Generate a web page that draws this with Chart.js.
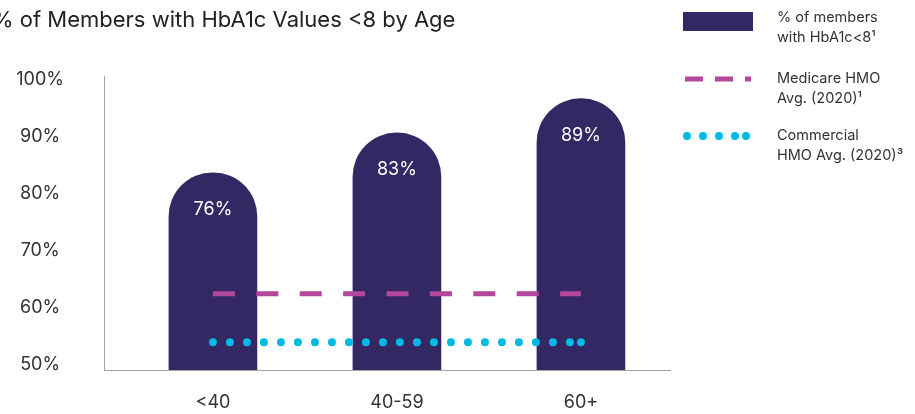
<!DOCTYPE html>
<html>
<head>
<meta charset="utf-8">
<script src="https://cdn.jsdelivr.net/npm/chart.js@4.4.0/dist/chart.umd.min.js"></script>
<style>
    html, body { margin: 0; padding: 0; background: #fff; overflow: hidden; }
    #wrap { position: absolute; left: -8px; top: 0; width: 923px; height: 414px; }
</style>
</head>
<body>
<div id="wrap"><canvas id="hba1cChart"></canvas></div>
<script>
const ageGroups = ['<40', '40-59', '60+'];
const membersPct = [76, 83, 89];
const medicareAvg = [62.5, 62.5, 62.5];
const commercialAvg = [54, 54, 54];
const yTicks = [50, 60, 70, 80, 90, 100];
const seriesNames = [
    ['% of members', 'with HbA1c<8¹'],
    ['Medicare HMO', 'Avg. (2020)¹'],
    ['Commercial', 'HMO Avg. (2020)³'],
];

const barColor = '#342864';
const medicareColor = '#b2479c';
const commercialColor = '#00b9e4';
const axisColor = '#a3a3a3';
const textColor = '#333333';
const fontFamily = 'Inter, "Noto Sans", sans-serif';

// canvas is pushed 8px left so the title gets cut like the original
const ox = 8;

const toPoints = values => values.map((v, i) => ({ x: i, y: v }));

// round cap sits above the value, so lift each bar by its radius
const barCaps = {
    id: 'barCaps',
    afterDatasetUpdate(chart, args) {
        if (args.meta.type !== 'bar') return;
        args.meta.data.forEach(el => {
            el.y -= el.width / 2;
            el.height = el.base - el.y;
        });
    },
    afterDatasetsDraw(chart) {
        const ctx = chart.ctx;
        const meta = chart.getDatasetMeta(0);
        ctx.save();
        ctx.fillStyle = '#ffffff';
        ctx.font = `18px ${fontFamily}`;
        ctx.textAlign = 'center';
        ctx.textBaseline = 'middle';
        meta.data.forEach((el, i) => {
            ctx.fillText(membersPct[i] + '%', el.x, el.y + 37);
        });
        ctx.restore();
    }
};

const sideLegend = {
    id: 'sideLegend',
    afterDraw(chart) {
        const ctx = chart.ctx;
        ctx.save();

        // bar key
        ctx.fillStyle = barColor;
        ctx.fillRect(683 + ox, 12, 70, 19);

        // dashed key
        ctx.strokeStyle = medicareColor;
        ctx.lineWidth = 5;
        ctx.setLineDash([18, 12]);
        ctx.beginPath();
        ctx.moveTo(685 + ox, 79);
        ctx.lineTo(751 + ox, 79);
        ctx.stroke();

        // dotted key
        ctx.strokeStyle = commercialColor;
        ctx.lineWidth = 8;
        ctx.lineCap = 'round';
        ctx.setLineDash([0, 16]);
        ctx.beginPath();
        ctx.moveTo(687 + ox, 136);
        ctx.lineTo(737 + ox, 136);
        ctx.stroke();
        ctx.setLineDash([]);
        ctx.fillStyle = commercialColor;
        ctx.beginPath();
        ctx.arc(746 + ox, 136, 4, 0, Math.PI * 2);
        ctx.fill();

        // texts
        const rows = [18, 79, 136];
        ctx.fillStyle = textColor;
        ctx.font = `14.5px ${fontFamily}`;
        ctx.textAlign = 'left';
        ctx.textBaseline = 'middle';
        seriesNames.forEach((lines, i) => {
            lines.forEach((line, j) => {
                ctx.fillText(line, 777 + ox, rows[i] + j * 20);
            });
        });
        ctx.restore();
    }
};

const ctx = document.getElementById('hba1cChart').getContext('2d');
new Chart(ctx, {
    type: 'bar',
    data: {
        datasets: [
            {
                label: seriesNames[0].join(' '),
                data: toPoints(membersPct),
                backgroundColor: barColor,
                barThickness: 88,
                borderRadius: { topLeft: 44, topRight: 44, bottomLeft: 0, bottomRight: 0 },
                borderSkipped: 'bottom',
                order: 2,
            },
            {
                type: 'line',
                label: seriesNames[1].join(' '),
                data: toPoints(medicareAvg),
                borderColor: medicareColor,
                borderWidth: 5,
                borderDash: [22, 21.4],
                pointRadius: 0,
                fill: false,
                order: 1,
            },
            {
                type: 'line',
                label: seriesNames[2].join(' '),
                data: toPoints(commercialAvg),
                borderColor: commercialColor,
                borderWidth: 8,
                borderDash: [0, 17],
                borderCapStyle: 'round',
                pointRadius: c => (c.dataIndex === commercialAvg.length - 1 ? 4 : 0),
                pointBackgroundColor: commercialColor,
                pointBorderWidth: 0,
                fill: false,
                order: 0,
            },
        ],
    },
    options: {
        responsive: true,
        maintainAspectRatio: false,
        animation: false,
        events: [],
        layout: { padding: { left: 0, right: 245, top: 0, bottom: 0 } },
        plugins: {
            legend: { display: false },
            tooltip: { enabled: false },
            title: {
                display: true,
                text: '% of Members with HbA1c Values <8 by Age',
                align: 'start',
                color: '#222222',
                font: { family: fontFamily, size: 22, weight: 'normal' },
                padding: { top: 7, bottom: 42.6 },
            },
        },
        scales: {
            x: {
                type: 'linear',
                offset: false,
                min: -0.592,
                max: 2.484,
                afterBuildTicks: s => { s.ticks = ageGroups.map((_, i) => ({ value: i })); },
                afterFit: s => { s.height = 44; },
                grid: { display: false, drawTicks: false },
                border: { color: axisColor, width: 1 },
                ticks: {
                    callback: v => ageGroups[v],
                    color: textColor,
                    font: { family: fontFamily, size: 18 },
                    padding: 22,
                    maxRotation: 0,
                    autoSkip: false,
                },
            },
            y: {
                min: 49.12,
                max: 100.7,
                afterBuildTicks: s => { s.ticks = yTicks.map(v => ({ value: v })); },
                afterFit: s => { s.width = 104 + ox; },
                // tick marks hidden, their length only pushes the labels left
                grid: { display: false, drawTicks: true, tickLength: 36 },
                border: { color: axisColor, width: 1 },
                ticks: {
                    callback: v => v + '%',
                    color: textColor,
                    font: { family: fontFamily, size: 18 },
                    padding: 4,
                    crossAlign: 'center',
                },
            },
        },
    },
    plugins: [barCaps, sideLegend],
});
</script>
</body>
</html>
